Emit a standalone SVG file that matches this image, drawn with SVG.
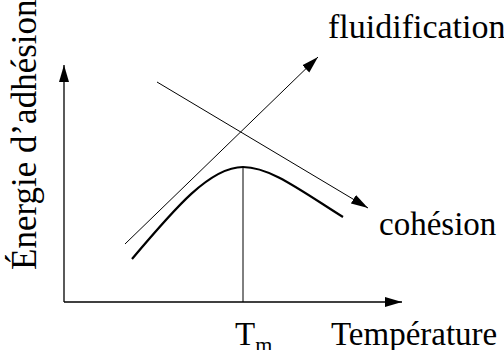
<svg xmlns="http://www.w3.org/2000/svg" width="504" height="350" viewBox="0 0 504 350">
<style>
text{font-family:"Liberation Serif","Times New Roman",serif;fill:#000}
.l{font-size:33px}
.thin{stroke:#000;stroke-width:1;fill:none}
.ax{stroke:#000;stroke-width:1.3;fill:none}
</style>
<defs>
<marker id="ah" markerUnits="userSpaceOnUse" markerWidth="18" markerHeight="11" refX="17" refY="5" orient="auto" viewBox="0 0 18 10">
<path d="M0,0 L17,5 L0,10 z" fill="#000"/>
</marker>
</defs>
<g id="axes">
<line class="ax" x1="64" y1="302" x2="64" y2="65" marker-end="url(#ah)"/>
<line class="ax" x1="64" y1="302" x2="402" y2="302" marker-end="url(#ah)"/>
</g>
<g id="connectors">
<line class="thin" x1="125" y1="244" x2="318" y2="57" marker-end="url(#ah)"/>
<line class="thin" x1="157" y1="82" x2="368" y2="208" marker-end="url(#ah)"/>
<line class="thin" x1="243" y1="167" x2="243" y2="302"/>
</g>
<g id="curve">
<path d="M132,259 C175,208 210,167 243,167 C270,167 300,190 343,217" fill="none" stroke="#000" stroke-width="2.2"/>
</g>
<g id="labels">
<text class="l" font-size="35" style="font-size:35px" transform="translate(36,270) rotate(-90)">Énergie d’adhésion</text>
<text class="l" style="font-size:34px" x="328" y="38">fluidification</text>
<text class="l" x="379" y="235">cohésion</text>
<text class="l" x="331" y="345">Température</text>
<text class="l" x="235" y="345">T<tspan font-size="22" style="font-size:22px" dy="7">m</tspan></text>
</g>
</svg>
